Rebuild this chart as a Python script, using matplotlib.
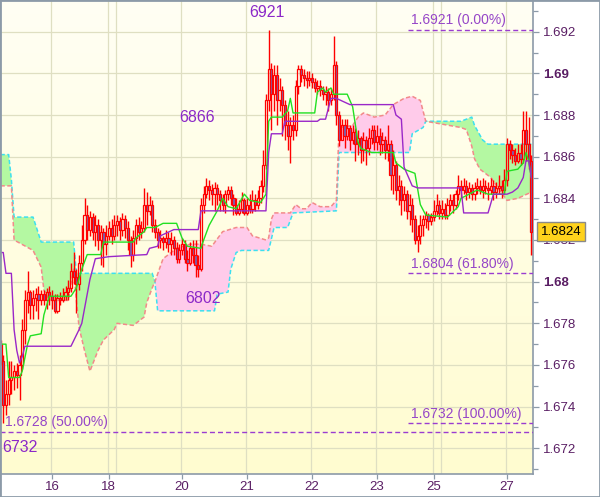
import numpy as np
import matplotlib
matplotlib.use('Agg')
import matplotlib.pyplot as plt
from matplotlib.colors import LinearSegmentedColormap
from matplotlib.patches import Rectangle
from matplotlib.ticker import FixedLocator, FixedFormatter

plt.rcParams['font.family'] = ['Liberation Sans', 'DejaVu Sans']

# prices are kept in pips above 1.6700 (hourly candles, index = candle number)
BASE = 1.67
PIP = 0.0001

open_pips = [70, 62, 41, 46, 53, 54, 57, 55, 60, 77, 91, 95, 89, 92, 94, 91, 94, 91, 95,
             93, 91, 86, 92, 91, 93, 95, 97, 105, 102, 99, 109, 120, 132, 125, 131, 124, 127, 120, 124, 118,
             122, 126, 122,
             127, 129, 125, 130, 126, 120, 113, 121, 127, 124, 126, 137, 134, 137, 127, 124, 120, 121, 119, 121, 118, 120, 116, 111,
             115, 118, 111, 109, 116, 113, 108, 106, 137, 142, 146, 144, 142, 145, 142, 139, 137, 142, 144, 140, 137, 133, 135, 139,
             133, 137, 135, 139, 137, 140, 146, 156, 187, 202, 190, 199, 187, 192, 185, 175, 170, 175, 173, 194, 202, 199, 198, 197,
             198, 196, 193, 194, 192, 190, 191, 187, 190, 204, 180, 168, 175, 170, 174, 168, 172, 166, 169, 163, 168, 164, 169, 173,
             167, 170, 166, 168, 163, 166, 151, 156, 144, 146, 139, 142, 134, 137, 130, 120, 122, 127, 130, 132, 129,
             131, 134, 137,
             133, 135, 132, 137, 139, 137, 142, 146, 144, 146, 143, 145, 142, 145, 146, 144, 146, 145, 144, 146, 143, 145, 146, 144,
             149, 166, 163, 161, 158, 162, 159, 173, 166, 158]
close_pips = [62, 41, 46, 53, 54, 57, 55, 60, 77, 91, 95, 89, 92, 94, 91, 94, 91, 95, 93,
              91, 86, 92, 91, 93, 95, 97, 105, 102, 99, 109, 120, 132, 125, 131, 124, 127, 120, 124, 118, 122,
              126, 122, 127,
              129, 125, 130, 126, 120, 113, 121, 127, 124, 126, 137, 134, 137, 127, 124, 120, 121, 119, 121, 118, 120, 116, 111, 115,
              118, 111, 109, 116, 113, 108, 106, 137, 142, 146, 144, 142, 145, 142, 139, 137, 142, 144, 140, 137, 133, 135, 139, 133,
              137, 135, 139, 137, 140, 146, 156, 187, 202, 190, 199, 187, 192, 185, 175, 170, 175, 173, 194, 202, 199, 198, 197, 198,
              196, 193, 194, 192, 190, 191, 187, 190, 204, 180, 168, 175, 170, 174, 168, 172, 166, 169, 163, 168, 164, 169, 173, 167,
              170, 166, 168, 163, 166, 151, 156, 144, 146, 139, 142, 134, 137, 130, 120, 122, 127, 130, 132, 129, 131,
              134, 137, 133,
              135, 132, 137, 139, 137, 142, 146, 144, 146, 143, 145, 142, 145, 146, 144, 146, 145, 144, 146, 143, 145, 146, 144, 149,
              166, 163, 161, 158, 162, 159, 173, 166, 158, 124]
high_pips = [72, 65, 53, 62, 62, 60, 61, 65, 82, 96, 105, 96, 96, 97, 98, 96, 96, 97, 98,
             96, 94, 94, 95, 97, 98, 101, 109, 114, 106, 113, 127, 140, 137, 134, 133, 132, 130, 127, 126, 127,
             129, 130, 132,
             132, 131, 133, 132, 129, 122, 125, 130, 131, 129, 145, 143, 141, 139, 130, 126, 125, 122, 125, 124, 124, 122, 119, 118,
             121, 120, 115, 119, 120, 120, 113, 140, 146, 150, 149, 147, 148, 147, 144, 142, 144, 146, 146, 142, 140, 139, 143, 140,
             140, 142, 144, 142, 144, 149, 163, 190, 221, 205, 204, 204, 198, 194, 187, 182, 179, 180, 197, 204, 204, 202, 201, 201,
             200, 198, 197, 197, 194, 194, 193, 193, 218, 206, 182, 178, 178, 178, 175, 175, 174, 173, 170, 172, 170, 174, 175, 175,
             175, 174, 172, 170, 175, 168, 163, 158, 151, 149, 146, 144, 142, 140, 132, 127, 132, 132, 134, 133, 133,
             139, 142, 139,
             139, 138, 140, 142, 142, 144, 151, 149, 150, 149, 148, 147, 148, 150, 149, 150, 149, 148, 150, 149, 148, 151, 149, 154,
             169, 168, 166, 164, 166, 166, 182, 182, 179, 161]
low_pips = [60, 32, 36, 41, 46, 48, 49, 43, 58, 70, 85, 82, 82, 86, 82, 89, 89, 87, 89,
            87, 85, 85, 89, 90, 91, 91, 95, 99, 85, 96, 105, 118, 120, 122, 120, 117, 115, 108, 107, 113,
            120, 118, 120,
            122, 120, 122, 121, 115, 107, 110, 118, 120, 121, 124, 127, 132, 124, 121, 116, 116, 115, 116, 114, 113, 113, 109, 109,
            113, 109, 105, 108, 109, 102, 102, 105, 133, 140, 139, 137, 134, 137, 134, 134, 133, 139, 137, 132, 132, 132, 133, 132,
            132, 133, 133, 134, 135, 138, 143, 154, 182, 173, 182, 175, 182, 170, 168, 163, 157, 168, 170, 190, 196, 194, 193, 194,
            193, 191, 190, 189, 187, 185, 182, 185, 187, 175, 165, 168, 164, 168, 163, 166, 158, 161, 157, 158, 156, 161, 166, 163,
            163, 161, 162, 159, 158, 144, 142, 139, 137, 132, 134, 130, 127, 124, 118, 114, 118, 122, 126, 125, 127,
            129, 132, 130,
            130, 130, 130, 134, 133, 135, 139, 140, 142, 139, 140, 139, 139, 142, 142, 140, 142, 139, 142, 139, 140, 142, 140, 142,
            146, 159, 157, 156, 157, 156, 157, 158, 154, 113]

# ichimoku lines: (candle index, pips) vertices
tenkan_x = [0, 2, 3, 7, 8, 10, 11, 15, 16, 18, 26, 28, 30, 32, 37, 38, 49, 50, 53, 54, 57, 60, 65, 67, 69, 74, 75, 77, 80,
            82, 84, 87, 90, 92, 96, 98, 99, 100, 104, 106, 107, 108, 116, 117, 119, 120, 122, 123, 128, 130, 132, 133, 137,
            140, 145, 146, 149, 153, 155, 157, 165, 169, 170, 176, 180, 186, 187, 191, 193, 194, 195, 196]
tenkan_v = [70, 70, 54, 54, 57, 70, 74, 75, 84, 93, 93, 97, 106, 113, 113, 119, 119, 121, 124, 126, 126, 128, 128, 121,
            117, 116, 120, 127, 134, 140, 136, 135, 142, 139, 138, 142, 177, 179, 179, 182, 188, 181, 181, 191, 193, 191, 193,
            190, 190, 184, 167, 164, 162, 162, 162, 157, 154, 152, 137, 132, 131, 136, 140, 144, 142, 142, 153, 154, 157,
            162, 158, 150]
kijun_x = [0, 1, 2, 4, 5, 6, 7, 8, 9, 26, 29, 30, 33, 35, 40, 54, 55, 58, 59, 64, 73, 74, 98, 99, 100, 104, 105, 117,
           118, 120, 122, 124, 129, 145, 146, 148, 149, 152, 154, 170, 171, 180, 182, 187, 189, 191, 193, 194, 195, 196]
kijun_v = [114, 114, 104, 104, 77, 67, 61, 64, 69, 69, 77, 80, 101, 111, 112, 113, 116, 117, 122, 125, 125, 134, 134,
           162, 171, 171, 177, 177, 178, 178, 188, 188, 185, 185, 180, 178, 155, 146, 145, 145, 133, 133, 142, 142, 143,
           145, 150, 158, 158, 150]
span_a_x = [0, 3, 4, 5, 12, 15, 27, 28, 56, 57, 58, 79, 80, 84, 85, 87, 89, 99, 101, 106, 108, 124, 125, 151, 152, 156,
            157, 170, 174, 175, 178, 180, 196]
span_a_v = [161, 161, 149, 131, 131, 119, 119, 104, 104, 100, 86, 86, 94, 95, 106, 114, 115, 115, 126, 126, 133, 134,
            162, 162, 171, 174, 177, 177, 179, 175, 168, 166, 166]
span_b_x = [0, 4, 5, 12, 15, 16, 18, 25, 26, 27, 28, 29, 31, 33, 36, 38, 42, 43, 49, 53, 54, 56, 57, 60, 65, 70, 74, 78,
            82, 87, 91, 93, 98, 99, 100, 101, 107, 109, 111, 113, 115, 118, 122, 124, 125, 130, 132, 134, 138, 142, 145,
            149, 152, 155, 156, 157, 170, 172, 173, 174, 175, 177, 181, 187, 191, 196]
span_b_v = [146, 146, 120, 115, 107, 96, 91, 91, 99, 106, 91, 78, 67, 57, 67, 72, 77, 80, 79, 83, 90, 97, 100, 111, 116,
            118, 118, 117, 124, 126, 126, 122, 120, 121, 130, 133, 133, 137, 135, 135, 138, 136, 136, 139, 174, 175, 179,
            181, 179, 180, 185, 188, 189, 187, 182, 177, 174, 173, 169, 165, 159, 154, 150, 139, 140, 143]
cloud_breaks = [0, 57, 157, 196]          # crossings of the two spans
cloud_colors = ['#b4f8a2', '#ffcbea', '#b4f8a2']

# axis labels
day_starts = [19, 40, 43, 67, 91, 115, 139, 160, 163, 187]
tick_pos = [19, 40, 67, 91, 115, 139, 160, 187]
tick_days = ['16', '18', '20', '21', '22', '23', '25', '27']
y_ticks = [1.672, 1.674, 1.676, 1.678, 1.680, 1.682, 1.684, 1.686, 1.688, 1.690, 1.692]
y_labels = ['1.672', '1.674', '1.676', '1.678', '1.68', '1.682', '1.684', '1.686', '1.688', '1.69', '1.692']
y_minor = [1.671, 1.673, 1.675, 1.677, 1.679, 1.681, 1.683, 1.685, 1.687, 1.689, 1.691, 1.693]

fib_levels = [1.6921, 1.6804, 1.6732]
fib_texts = ['1.6921 (0.00%)', '1.6804 (61.80%)', '1.6732 (100.00%)']
fib50_level = 1.6728
fib50_text = '1.6728 (50.00%)'
swing_texts = ['6921', '6866', '6802', '6732']
swing_x = [98.4, 72.5, 74.8, 7.2]
swing_y = [1.69294, 1.68790, 1.67921, 1.67206]
last_price = 1.6824

o = BASE + np.array(open_pips) * PIP
c = BASE + np.array(close_pips) * PIP
h = BASE + np.array(high_pips) * PIP
l = BASE + np.array(low_pips) * PIP
x = np.arange(len(o))

fig = plt.figure(figsize=(6, 4.97), dpi=100)
ax = fig.add_axes([0.0, 23 / 497, 533 / 600, 474 / 497])
ax.set_xlim(-0.2, 196.6)
ax.set_ylim(1.670766, 1.693522)

# background gradient
cmap = LinearSegmentedColormap.from_list('bg', ['#fffff4', '#fffcd0'])
grad = np.linspace(0, 1, 256).reshape(-1, 1)
ax.imshow(grad, extent=[0, 1, 0, 1], transform=ax.transAxes, aspect='auto', cmap=cmap, zorder=0)

for d in day_starts:
    ax.axvline(d - 0.5, color='#dfdfc2', lw=0.9, zorder=1)
for yv in y_ticks:
    ax.axhline(yv, color='#dfdfc2', lw=0.9, zorder=1)

# cloud
ax_x = np.array(span_a_x); ax_v = BASE + np.array(span_a_v) * PIP
bx_x = np.array(span_b_x); bx_v = BASE + np.array(span_b_v) * PIP
for k in range(3):
    lo, hi = cloud_breaks[k], cloud_breaks[k + 1]
    ma = (ax_x >= lo) & (ax_x <= hi)
    mb = (bx_x >= lo) & (bx_x <= hi)
    px = np.r_[ax_x[ma], bx_x[mb][::-1]]
    py = np.r_[ax_v[ma], bx_v[mb][::-1]]
    ax.fill(px, py, color=cloud_colors[k], lw=0, zorder=2)
ax.plot(ax_x, ax_v, color='#3ce0f0', lw=1.1, dashes=(2.8, 1.6), zorder=2.5)
ax.plot(bx_x, bx_v, color='#f28a8a', lw=1.1, dashes=(2.8, 1.6), zorder=2.5)

# candles
up = c >= o
top = np.maximum(o, c)
bot = np.minimum(o, c)
ax.vlines(x, top, h, color='#ff0000', lw=1.0, zorder=3)
ax.vlines(x, l, bot, color='#ff0000', lw=1.0, zorder=3)
ax.bar(x[up], (top - bot)[up], bottom=bot[up], width=0.8, facecolor='none',
       edgecolor='#ff0000', linewidth=0.9, zorder=3)
ax.bar(x[~up], (top - bot)[~up], bottom=bot[~up], width=0.8, facecolor='#7565b5',
       edgecolor='#ff0000', linewidth=0.9, zorder=3)

# tenkan / kijun
ax.plot(tenkan_x, BASE + np.array(tenkan_v) * PIP, color='#22e022', lw=1.0, zorder=4)
ax.plot(kijun_x, BASE + np.array(kijun_v) * PIP, color='#9a28c8', lw=1.0, zorder=4)

# fibonacci levels
fib_col = '#9a3cd0'
for lev, txt in zip(fib_levels, fib_texts):
    ax.plot([150.5, 196.6], [lev, lev], color=fib_col, lw=1.0, dashes=(3.6, 2.2), zorder=5)
    ax.annotate(txt, (151.6, lev), xytext=(0, 2), textcoords='offset points',
                fontsize=10, color='#9646c8', va='bottom', ha='left', zorder=6)
ax.axhline(fib50_level, color=fib_col, lw=1.0, dashes=(3.6, 2.2), zorder=5)
ax.annotate(fib50_text, (1.6, fib50_level), xytext=(0, 2), textcoords='offset points',
            fontsize=10, color='#9646c8', va='bottom', ha='left', zorder=6)

for t, sx, sy in zip(swing_texts, swing_x, swing_y):
    ax.text(sx, sy, t, fontsize=11.5, color='#8c28c8', ha='center', va='center', zorder=6)

# axes
for s in ['top', 'left']:
    ax.spines[s].set_visible(False)
for s in ['right', 'bottom']:
    ax.spines[s].set_color('#8c9aa8')
    ax.spines[s].set_linewidth(1.2)
ax.yaxis.tick_right()
ax.yaxis.set_major_locator(FixedLocator(y_ticks))
ax.yaxis.set_major_formatter(FixedFormatter(y_labels))
ax.yaxis.set_minor_locator(FixedLocator(y_minor))
ax.xaxis.set_major_locator(FixedLocator(tick_pos))
ax.xaxis.set_major_formatter(FixedFormatter(tick_days))
ax.tick_params(axis='y', which='major', length=4.5, width=0.9, color='#8c9aa8', pad=2.5,
               labelsize=9.5, labelcolor='#5a1e64')
ax.tick_params(axis='y', which='minor', length=3.5, width=0.9, color='#8c9aa8')
ax.tick_params(axis='x', length=3.6, width=0.9, color='#8c9aa8', pad=1.5,
               labelsize=9.5, labelcolor='#5a1e64')
for lbl in ax.get_yticklabels():
    if lbl.get_text() in ('1.69', '1.68'):
        lbl.set_fontweight('bold')

# current price tag (covers part of the 1.682 label, as in the source)
ax.annotate(f'{last_price:.4f}', xy=(1, last_price), xycoords=('axes fraction', 'data'),
            xytext=(5.6, 0), textcoords='offset points', va='center', ha='left',
            fontsize=9.5, color='black', zorder=10, annotation_clip=False,
            bbox=dict(boxstyle='square,pad=0.28', fc='#ffd21c', ec='#8a8a8a', lw=1))

fig.patches.append(Rectangle((0, 0), 1, 1, transform=fig.transFigure, fill=False,
                             ec='#8c9aa8', lw=2))
fig.savefig('out.png', dpi=100)
